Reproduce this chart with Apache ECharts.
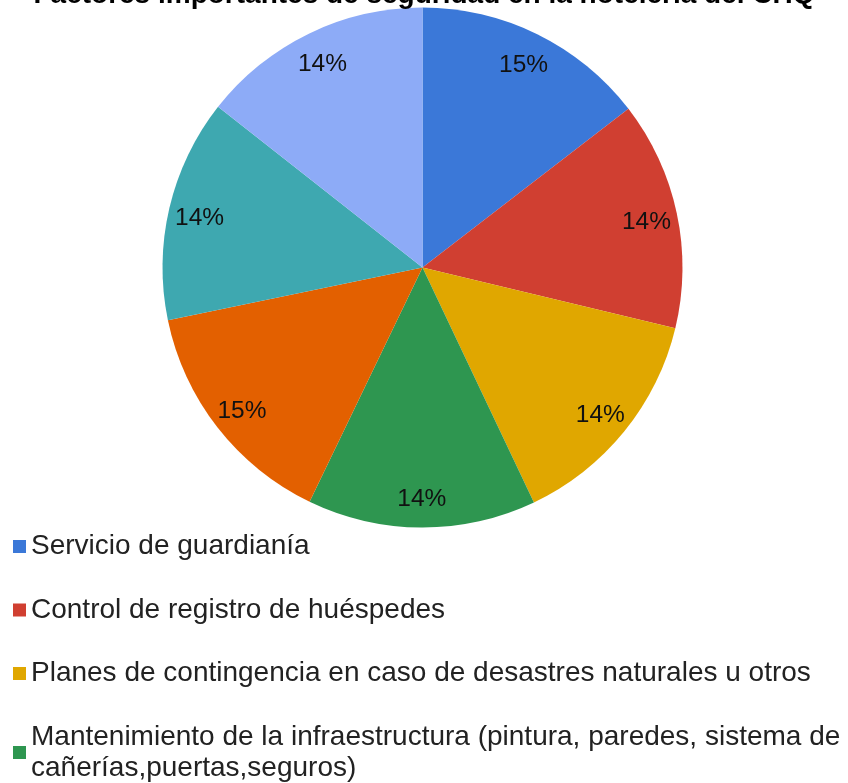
<!DOCTYPE html>
<html>
<head>
<meta charset="utf-8">
<script src="https://cdn.jsdelivr.net/npm/echarts@6/dist/echarts.min.js"></script>
<style>html,body{margin:0;padding:0;background:#fff;}#c{width:848px;height:783px;}</style>
</head>
<body>
<div id="c"></div>
<script>
const titleText = 'Factores importantes de seguridad en la hotelería del CHQ';
const categories = [
  'Servicio de guardianía',
  'Control de registro de huéspedes',
  'Planes de contingencia en caso de desastres naturales u otros',
  'Mantenimiento de la infraestructura (pintura, paredes, sistema de cañerías,puertas,seguros)',
  'Sistema de cámaras de seguridad',
  'Capacitación del personal en seguridad',
  'Señalización de rutas de evacuación'
];
const values = [14.55, 14.2, 14.2, 14.2, 14.6, 13.85, 14.4];
const colors = ['#3b78d8', '#d03f31', '#e0a700', '#2e9650', '#e36000', '#3ea8b0', '#8dabf7'];

const FONT = '"Liberation Sans", Arial, sans-serif';
const LEGEND_FS = 28;
const LEGEND_MAXW = 812;
const data = categories.map((n, i) => ({ name: n, value: values[i] }));

// greedy word wrap so wrapped lines do not start with a space
const measureCtx = document.createElement('canvas').getContext('2d');
measureCtx.font = LEGEND_FS + 'px ' + FONT;
function wrapWords(text) {
  const words = text.split(' ');
  const lines = [];
  let cur = '';
  for (const w of words) {
    const trial = cur ? cur + ' ' + w : w;
    if (cur && measureCtx.measureText(trial).width > LEGEND_MAXW) {
      lines.push(cur);
      cur = w;
    } else {
      cur = trial;
    }
  }
  if (cur) lines.push(cur);
  return lines.join('\n');
}

const chart = echarts.init(document.getElementById('c'), null, { renderer: 'canvas' });
chart.setOption({
  animation: false,
  color: colors,
  title: {
    text: titleText,
    left: 'center',
    top: -19,
    padding: 0,
    textStyle: { fontFamily: FONT, fontSize: 28, fontWeight: 'bold', color: '#000' }
  },
  legend: {
    orient: 'vertical',
    left: 13,
    top: 531,
    height: 1200,
    padding: 0,
    itemGap: 32.5,
    itemWidth: 13,
    itemHeight: 13,
    icon: 'rect',
    data: categories,
    formatter: name => wrapWords(name),
    textStyle: {
      fontFamily: FONT, fontSize: LEGEND_FS, color: '#222', lineHeight: 31
    }
  },
  series: [
    {
      type: 'pie',
      center: [422.5, 267.5],
      radius: [0, 260],
      startAngle: 90,
      clockwise: true,
      label: { show: false },
      labelLine: { show: false },
      itemStyle: { borderWidth: 0 },
      emphasis: { disabled: true },
      data: data
    },
    {
      type: 'pie',
      silent: true,
      center: [422.5, 267.5],
      radius: [192, 260],
      startAngle: 90,
      clockwise: true,
      itemStyle: { color: 'rgba(0,0,0,0)', borderWidth: 0 },
      emphasis: { disabled: true },
      labelLine: { show: false },
      label: {
        show: true,
        position: 'inside',
        fontFamily: FONT,
        fontSize: 24.5,
        color: '#111',
        offset: [0, 3],
        formatter: p => Math.round(p.percent) + '%'
      },
      data: data
    }
  ]
});
</script>
</body>
</html>
